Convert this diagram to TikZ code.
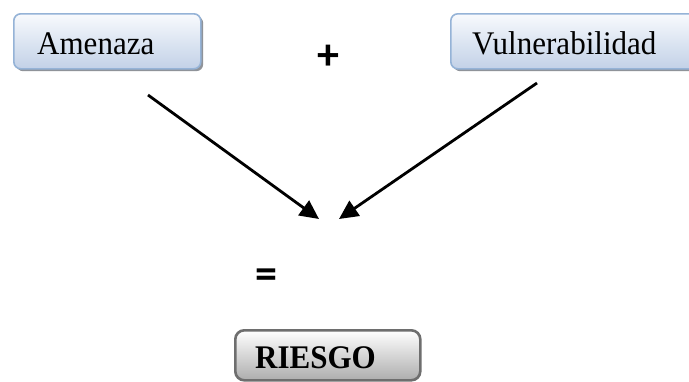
\documentclass[tikz,border=0pt]{standalone}
\usepackage{fontspec}
\setmainfont{Liberation Serif}
\newfontfamily\symfont{Carlito}
\usetikzlibrary{arrows.meta}
\definecolor{blueborder}{HTML}{95B3D7}
\definecolor{bluebottom}{HTML}{C2D1E7}
\definecolor{bluetop}{HTML}{F8FAFD}
\definecolor{shadowgray}{HTML}{8F9399}
\definecolor{grayborder}{HTML}{6E6E6E}
\definecolor{graybottom}{HTML}{ADADAD}
\newcommand{\narrowtxt}[1]{\scalebox{0.94}[1]{#1}}
\begin{document}
\begin{tikzpicture}[x=1pt,y=-1pt,
  bluebox/.style={rounded corners=7pt, draw=blueborder, line width=1.6pt,
    top color=bluetop, bottom color=bluebottom, inner sep=0pt, anchor=north west},
  shadowbox/.style={rounded corners=7pt, fill=shadowgray, draw=none, inner sep=0pt, anchor=north west},
  graybox/.style={rounded corners=9pt, draw=grayborder, line width=2.6pt,
    top color=white, bottom color=graybottom, inner sep=0pt, anchor=north west},
  lbl/.style={font=\fontsize{33}{38}\selectfont, inner sep=0pt, anchor=base west},
  sym/.style={font=\symfont\bfseries\fontsize{44}{50}\selectfont, inner sep=0pt},
  arr/.style={line width=2.8pt, -{Triangle[length=19pt,width=18pt]}}]
\clip (0,0) rectangle (689,381);
\fill[white] (0,0) rectangle (689,381);
% Amenaza
\node[shadowbox, minimum width=187pt, minimum height=55pt] (amenshadow) at (16,16) {};
\node[bluebox, minimum width=187pt, minimum height=55pt] (amen) at (13,13) {};
\node[lbl] (amentxt) at (37,54) {\narrowtxt{Amenaza}};
% Vulnerabilidad
\node[shadowbox, minimum width=260pt, minimum height=55pt] (vulnshadow) at (453,16) {};
\node[bluebox, minimum width=260pt, minimum height=55pt] (vuln) at (450,13) {};
\node[lbl] (vulntxt) at (472,54) {\narrowtxt{Vulnerabilidad}};
% plus and equals
\node[sym] (plus) at (328,57) {+};
\node[sym] (eq) at (266,279) {=};
% Riesgo
\node[graybox, minimum width=185pt, minimum height=50pt] (riesgo) at (234,329) {};
\node[lbl, font=\bfseries\fontsize{33}{38}\selectfont] (riesgotxt) at (255,368) {\narrowtxt{RIESGO}};
% arrows
\coordinate (a1s) at (148,95);
\coordinate (a1e) at (319,219);
\coordinate (a2s) at (537,83);
\coordinate (a2e) at (339,219);
\draw[arr] (a1s) -- (a1e);
\draw[arr] (a2s) -- (a2e);
\end{tikzpicture}
\end{document}
